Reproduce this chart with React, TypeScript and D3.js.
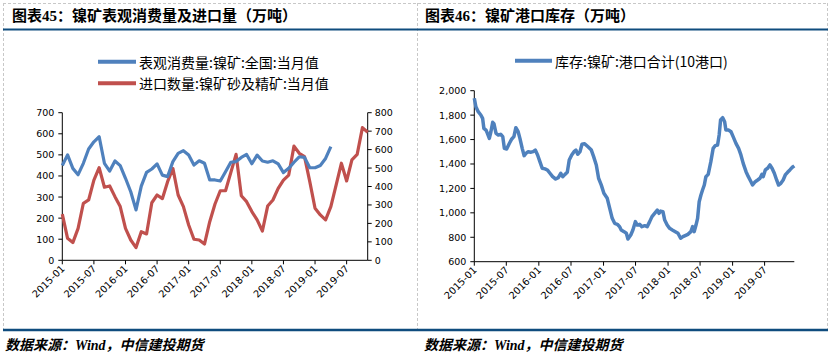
import React from "react";
import * as d3 from "d3";

// ---------- DATA ----------
const xTickLabels = ["2015-01", "2015-07", "2016-01", "2016-07", "2017-01", "2017-07", "2018-01", "2018-07", "2019-01", "2019-07"];
const leftTicks = [0, 100, 200, 300, 400, 500, 600, 700];
const rightTicks = [0, 100, 200, 300, 400, 500, 600, 700, 800];
const invTicks = [600, 800, 1000, 1200, 1400, 1600, 1800, 2000];

const fmtMonth = d3.timeFormat("%Y-%m");
const monthCats = d3.timeMonth.range(new Date(2015, 0, 1), new Date(2019, 11, 1)).map(fmtMonth);

const consumption = [
  450, 500, 436, 406, 460, 528, 562, 586, 460, 423, 471, 449,
  389, 325, 239, 352, 417, 433, 457, 404, 397, 468, 507, 520,
  499, 452, 472, 460, 381, 381, 376, 420, 465, 468, 488, 502,
  458, 499, 471, 465, 472, 457, 416, 436, 465, 491, 488, 439,
  439, 450, 483, 539,
];
const imports = [
  250, 119, 96, 173, 309, 327, 435, 502, 396, 403, 345, 291,
  173, 110, 69, 155, 143, 312, 354, 334, 426, 498, 354, 291,
  191, 114, 110, 88, 209, 305, 377, 377, 475, 574, 350, 318,
  264, 219, 159, 294, 327, 390, 435, 462, 619, 580, 562, 426,
  282, 246, 219, 291, 408, 526, 430, 544, 574, 719, 694,
];

const invDates = [
  "2015-01-01", "2015-01-10", "2015-01-23", "2015-02-07", "2015-02-17", "2015-02-24", "2015-03-08", "2015-03-15",
  "2015-03-27", "2015-04-05", "2015-04-15", "2015-04-22", "2015-05-04", "2015-05-17", "2015-05-30", "2015-06-11",
  "2015-06-20", "2015-07-03", "2015-07-18", "2015-08-01", "2015-08-13", "2015-08-24", "2015-09-06", "2015-09-16",
  "2015-09-29", "2015-10-10", "2015-10-20", "2015-11-02", "2015-11-15", "2015-11-30", "2015-12-12", "2015-12-25",
  "2016-01-07", "2016-01-20", "2016-02-05", "2016-02-18", "2016-03-04", "2016-03-19", "2016-04-05", "2016-04-20",
  "2016-05-04", "2016-05-15", "2016-05-28", "2016-06-10", "2016-06-21", "2016-07-05", "2016-07-18", "2016-07-29",
  "2016-08-08", "2016-08-21", "2016-09-01", "2016-09-16", "2016-10-05", "2016-10-24", "2016-11-06", "2016-11-21",
  "2016-12-04", "2016-12-19", "2017-01-03", "2017-01-22", "2017-02-05", "2017-02-19", "2017-03-05", "2017-03-20",
  "2017-04-02", "2017-04-11", "2017-04-27", "2017-05-10", "2017-05-19", "2017-06-04", "2017-06-16", "2017-06-30",
  "2017-07-11", "2017-07-24", "2017-08-06", "2017-08-22", "2017-09-05", "2017-09-19", "2017-10-02", "2017-10-17",
  "2017-11-01", "2017-11-11", "2017-11-20", "2017-12-03", "2017-12-13", "2017-12-27", "2018-01-10", "2018-01-25",
  "2018-02-11", "2018-02-26", "2018-03-13", "2018-03-26", "2018-04-08", "2018-04-23", "2018-05-10", "2018-05-20",
  "2018-05-29", "2018-06-08", "2018-06-17", "2018-06-26", "2018-07-06", "2018-07-15", "2018-07-25", "2018-08-03",
  "2018-08-16", "2018-08-31", "2018-09-13", "2018-09-25", "2018-10-08", "2018-10-17", "2018-10-25", "2018-11-06",
  "2018-11-17", "2018-11-24", "2018-12-10", "2018-12-23", "2019-01-04", "2019-01-20", "2019-02-04", "2019-02-17",
  "2019-03-02", "2019-03-18", "2019-03-31", "2019-04-15", "2019-04-24", "2019-05-09", "2019-05-23", "2019-06-05",
  "2019-06-16", "2019-06-23", "2019-07-05", "2019-07-18", "2019-07-31", "2019-08-12", "2019-08-25", "2019-09-07",
  "2019-09-18", "2019-10-01", "2019-10-14", "2019-10-26", "2019-11-08", "2019-11-21", "2019-12-03", "2019-12-16",
];
const invValues = [
  1938, 1869, 1828, 1801, 1774, 1692, 1678, 1655, 1610, 1664, 1741, 1730, 1651, 1637, 1643, 1624,
  1528, 1523, 1568, 1605, 1624, 1697, 1664, 1610, 1528, 1468, 1487, 1501, 1496, 1501, 1514, 1474,
  1419, 1365, 1360, 1351, 1324, 1296, 1277, 1288, 1324, 1296, 1315, 1332, 1433, 1474, 1501, 1514,
  1480, 1501, 1561, 1566, 1541, 1514, 1460, 1392, 1283, 1229, 1160, 1119, 1037, 955, 914, 906,
  887, 860, 846, 833, 786, 819, 860, 928, 900, 906, 887, 895, 887, 928, 969, 996,
  1023, 996, 1014, 1010, 941, 900, 873, 860, 846, 833, 792, 805, 814, 824, 846, 887,
  846, 900, 955, 1091, 1146, 1187, 1228, 1296, 1315, 1419, 1528, 1550, 1555, 1637, 1760, 1779,
  1746, 1678, 1678, 1664, 1624, 1569, 1528, 1474, 1405, 1337, 1296, 1255, 1228, 1255, 1269, 1283,
  1315, 1296, 1351, 1365, 1392, 1365, 1324, 1269, 1228, 1242, 1269, 1310, 1332, 1351, 1371, 1385,
];

const titleLeft = "图表45：镍矿表观消费量及进口量（万吨）";
const titleRight = "图表46：镍矿港口库存（万吨）";
const legendLeft = ["表观消费量:镍矿:全国:当月值", "进口数量:镍矿砂及精矿:当月值"];
const legendRight = "库存:镍矿:港口合计(10港口)";
const sourceText = "数据来源：Wind，中信建投期货";

// ---------- STYLE ----------
const BLUE = "#4F81BD";
const RED = "#C0504D";
const NAVY = "#0F4C7E";
const AX_FONT = "'DejaVu Sans', sans-serif";
const CJK_FONT = "'Noto Sans CJK SC', sans-serif";
const TITLE_FONT = "'Liberation Serif', 'Noto Sans CJK SC', serif";

export default function App() {
  // left chart
  const L = { x0: 62.3, x1: 367.7, top: 112.7, bot: 260.3 };
  const xL = d3.scalePoint<string>().domain(monthCats).range([L.x0, L.x1]);
  const yL = d3.scaleLinear().domain([0, 700]).range([L.bot, L.top]);
  const yR = d3.scaleLinear().domain([0, 800]).range([L.bot, L.top]);
  const lineCons = d3.line<number>().x((_, i) => xL(monthCats[i]) as number).y((d) => yL(d));
  const lineImp = d3.line<number>().x((_, i) => xL(monthCats[i]) as number).y((d) => yR(d));

  // right chart
  const R = { x0: 474.3, x1: 794.3, top: 90.7, bot: 261.7 };
  const parse = d3.timeParse("%Y-%m-%d");
  const dates = invDates.map((s) => parse(s) as Date);
  const xR = d3.scaleTime().domain([dates[0], dates[dates.length - 1]]).range([R.x0, R.x1]);
  const yInv = d3.scaleLinear().domain([600, 2000]).range([R.bot, R.top]);
  const lineInv = d3.line<number>().x((_, i) => xR(dates[i])).y((d) => yInv(d));
  const fmtComma = d3.format(",");

  const tickLabel = (x: number, y: number, label: string, key: string) => (
    <text
      key={key}
      transform={`translate(${x + 3},${y + 9}) rotate(-45)`}
      textAnchor="end"
      fontSize={9.8}
      fontFamily={AX_FONT}
      fill="#000"
    >
      {label}
    </text>
  );

  return (
    <svg
      width={831}
      height={354}
      style={{ position: "absolute", left: 0, top: 0, background: "#fff" }}
    >
      <rect x={0} y={0} width={831} height={354} fill="#fff" />
      {/* dashed frames */}
      <g stroke="#c8c8c8" strokeWidth={1} strokeDasharray="3,2" fill="none">
        <line x1={3} x2={828} y1={3.5} y2={3.5} />
        <line x1={3.5} x2={3.5} y1={3} y2={329} />
        <line x1={417.5} x2={417.5} y1={3} y2={329} />
        <line x1={827.5} x2={827.5} y1={3} y2={329} />
      </g>
      {/* titles */}
      <text x={12} y={20.5} fontSize={15} fontWeight="bold" fontFamily={TITLE_FONT} fill="#000">{titleLeft}</text>
      <text x={425} y={20.5} fontSize={15} fontWeight="bold" fontFamily={TITLE_FONT} fill="#000">{titleRight}</text>
      <line x1={3} x2={828} y1={29.5} y2={29.5} stroke={NAVY} strokeWidth={2} />
      <line x1={3} x2={828} y1={330} y2={330} stroke={NAVY} strokeWidth={2.5} />
      <text x={5} y={350} fontSize={14} fontWeight="bold" fontStyle="italic" fontFamily={TITLE_FONT} fill="#000">{sourceText}</text>
      <text x={424} y={350} fontSize={14} fontWeight="bold" fontStyle="italic" fontFamily={TITLE_FONT} fill="#000">{sourceText}</text>

      {/* ---- left chart ---- */}
      <g>
        <line x1={98} x2={136} y1={61.7} y2={61.7} stroke={BLUE} strokeWidth={4} />
        <text x={139} y={61.7} dominantBaseline="central" fontSize={14} fontFamily={CJK_FONT} fill="#000">{legendLeft[0]}</text>
        <line x1={98} x2={136} y1={83.3} y2={83.3} stroke={RED} strokeWidth={4} />
        <text x={139} y={83.3} dominantBaseline="central" fontSize={14} fontFamily={CJK_FONT} fill="#000">{legendLeft[1]}</text>

        {/* axes */}
        <g stroke="#000" strokeWidth={1}>
          <line x1={L.x0} x2={L.x0} y1={L.top} y2={L.bot} />
          <line x1={L.x1} x2={L.x1} y1={L.top} y2={L.bot} />
          <line x1={L.x0} x2={L.x1} y1={L.bot} y2={L.bot} />
          {leftTicks.map((t) => (
            <line key={"lt" + t} x1={L.x0 - 4} x2={L.x0} y1={yL(t)} y2={yL(t)} />
          ))}
          {rightTicks.map((t) => (
            <line key={"rt" + t} x1={L.x1} x2={L.x1 + 4} y1={yR(t)} y2={yR(t)} />
          ))}
          {xTickLabels.map((m) => (
            <line key={"xt" + m} x1={xL(m) as number} x2={xL(m) as number} y1={L.bot} y2={L.bot + 4} />
          ))}
        </g>
        {leftTicks.map((t) => (
          <text key={"ll" + t} x={L.x0 - 8} y={yL(t)} dominantBaseline="central" textAnchor="end" fontSize={9.5} fontFamily={AX_FONT} fill="#000">{t}</text>
        ))}
        {rightTicks.map((t) => (
          <text key={"rl" + t} x={L.x1 + 7} y={yR(t)} dominantBaseline="central" textAnchor="start" fontSize={9.5} fontFamily={AX_FONT} fill="#000">{t}</text>
        ))}
        {xTickLabels.map((m) => tickLabel(xL(m) as number, L.bot, m, "xl" + m))}

        <path d={lineImp(imports) as string} fill="none" stroke={RED} strokeWidth={3.2} strokeLinejoin="round" />
        <path d={lineCons(consumption) as string} fill="none" stroke={BLUE} strokeWidth={3.2} strokeLinejoin="round" />
      </g>

      {/* ---- right chart ---- */}
      <g>
        <line x1={515} x2={552} y1={60.7} y2={60.7} stroke={BLUE} strokeWidth={4} />
        <text x={555} y={60.7} dominantBaseline="central" fontSize={14} fontFamily={CJK_FONT} fill="#000">{legendRight}</text>

        <g stroke="#000" strokeWidth={1}>
          <line x1={R.x0} x2={R.x0} y1={R.top} y2={R.bot} />
          <line x1={R.x0} x2={R.x1} y1={R.bot} y2={R.bot} />
          {invTicks.map((t) => (
            <line key={"it" + t} x1={R.x0 - 4} x2={R.x0} y1={yInv(t)} y2={yInv(t)} />
          ))}
          {xTickLabels.map((m) => {
            const x = xR(parse(m + "-01") as Date);
            return <line key={"rx" + m} x1={x} x2={x} y1={R.bot} y2={R.bot + 4} />;
          })}
        </g>
        {invTicks.map((t) => (
          <text key={"il" + t} x={R.x0 - 8} y={yInv(t)} dominantBaseline="central" textAnchor="end" fontSize={9.5} fontFamily={AX_FONT} fill="#000">{fmtComma(t)}</text>
        ))}
        {xTickLabels.map((m) => tickLabel(xR(parse(m + "-01") as Date), R.bot, m, "rxl" + m))}

        <path d={lineInv(invValues) as string} fill="none" stroke={BLUE} strokeWidth={3.5} strokeLinejoin="round" />
      </g>
    </svg>
  );
}
